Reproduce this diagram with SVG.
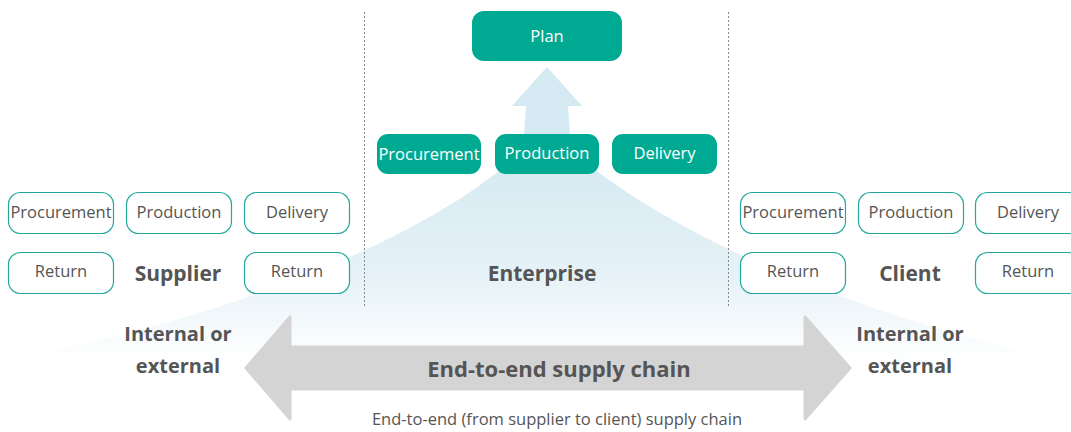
<svg xmlns="http://www.w3.org/2000/svg" width="1071" height="432" viewBox="0 0 1071 432">
<style>
.ob{fill:#fff;stroke:#22A89C;stroke-width:1.2}
.fb{fill:#00AA92}
.t{font-family:"Open Sans","Noto Sans",sans-serif;font-size:16.5px;fill:#555;text-anchor:middle}
.w{fill:#fff}
.b{font-family:"Open Sans","Noto Sans",sans-serif;font-weight:bold;font-size:21px;fill:#555;text-anchor:middle}
.bi{font-size:20px}
.bc{font-size:22px}
.s{font-family:"Open Sans","Noto Sans",sans-serif;font-size:16.5px;fill:#555;text-anchor:middle}
.dl{stroke:#888;stroke-width:1;stroke-dasharray:2 2;fill:none}
</style>
<defs>
<linearGradient id="fan" x1="0" y1="150" x2="0" y2="362" gradientUnits="userSpaceOnUse">
<stop offset="0" stop-color="#D4E9F1"/>
<stop offset="0.6" stop-color="#E6F2F7"/>
<stop offset="1" stop-color="#FFFFFF"/>
</linearGradient>
</defs>
<rect width="1071" height="432" fill="#fff"/>
<g id="background">
<path d="M522,150 C470,205 300,305 0,362 L1071,362 C800,305 630,205 572,150 Z" fill="url(#fan)"/>
<path d="M547,67 L582,106 L568,106 L571,150 L523,150 L526,106 L512,106 Z" fill="#D4E9F1"/>
</g>
<g id="dividers">
<line class="dl" x1="364.5" y1="12" x2="364.5" y2="308"/>
<line class="dl" x1="728.5" y1="12" x2="728.5" y2="308"/>
</g>
<g id="connectors">
<path d="M246,368 L290,317 L290,347 L805,347 L805,317 L850,368 L805,419 L805,389 L290,389 L290,419 Z" fill="#D4D4D4" stroke="#D4D4D4" stroke-width="3" stroke-linejoin="round"/>
<text class="b bc" x="559" y="377">End-to-end supply chain</text>
<text class="s" x="557" y="425">End-to-end (from supplier to client) supply chain</text>
</g>
<g id="plan"><rect class="fb" x="472" y="11" width="150" height="50" rx="12"/><text class="t w" x="547" y="42">Plan</text></g>
<g id="ent-procurement"><rect class="fb" x="377" y="134" width="104" height="40" rx="11"/><text class="t w" x="429" y="160">Procurement</text></g>
<g id="ent-production"><rect class="fb" x="495" y="134" width="104" height="40" rx="11"/><text class="t w" x="547" y="159">Production</text></g>
<g id="ent-delivery"><rect class="fb" x="612" y="134" width="105" height="40" rx="11"/><text class="t w" x="664.5" y="159">Delivery</text></g>
<g id="sup-procurement"><rect class="ob" x="8.5" y="192.5" width="105" height="41" rx="12"/><text class="t" x="61" y="218">Procurement</text></g>
<g id="sup-production"><rect class="ob" x="126.5" y="192.5" width="105" height="41" rx="12"/><text class="t" x="179" y="218">Production</text></g>
<g id="sup-delivery"><rect class="ob" x="244.5" y="192.5" width="105" height="41" rx="12"/><text class="t" x="297" y="218">Delivery</text></g>
<g id="sup-return1"><rect class="ob" x="8.5" y="252.5" width="105" height="41" rx="12"/><text class="t" x="61" y="277">Return</text></g>
<g id="sup-return2"><rect class="ob" x="244.5" y="252.5" width="105" height="41" rx="12"/><text class="t" x="297" y="277">Return</text></g>
<g id="supplier"><text class="b" x="178" y="281">Supplier</text></g>
<g id="enterprise"><text class="b" x="542" y="281">Enterprise</text></g>
<g id="cli-procurement"><rect class="ob" x="740.5" y="192.5" width="105" height="41" rx="12"/><text class="t" x="793" y="218">Procurement</text></g>
<g id="cli-production"><rect class="ob" x="858.5" y="192.5" width="105" height="41" rx="12"/><text class="t" x="911" y="218">Production</text></g>
<g id="cli-delivery"><rect class="ob" x="975.5" y="192.5" width="105" height="41" rx="12"/><text class="t" x="1028" y="218">Delivery</text></g>
<g id="cli-return1"><rect class="ob" x="740.5" y="252.5" width="105" height="41" rx="12"/><text class="t" x="793" y="277">Return</text></g>
<g id="cli-return2"><rect class="ob" x="975.5" y="252.5" width="105" height="41" rx="12"/><text class="t" x="1028" y="277">Return</text></g>
<g id="client"><text class="b" x="910" y="281">Client</text></g>
<g id="internal-left"><text class="b bi" x="178" y="341">Internal or</text><text class="b bi" x="178" y="373">external</text></g>
<g id="internal-right"><text class="b bi" x="910" y="341">Internal or</text><text class="b bi" x="910" y="373">external</text></g>
</svg>
